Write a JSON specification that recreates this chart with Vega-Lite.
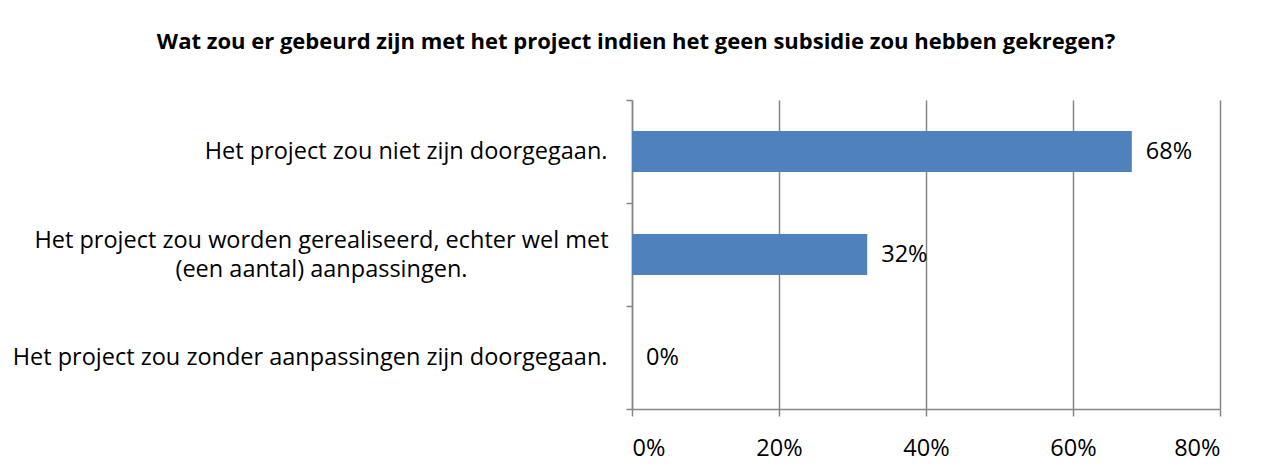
{
  "$schema": "https://vega.github.io/schema/vega-lite/v6.json",
  "width": 588,
  "height": 309,
  "autosize": "none",
  "padding": {"left": 632, "top": 100, "right": 50, "bottom": 63},
  "background": "#ffffff",
  "title": {
    "text": "Wat zou er gebeurd zijn met het project indien het geen subsidie zou hebben gekregen?",
    "anchor": "middle",
    "frame": "group",
    "dx": -290,
    "offset": 34,
    "font": "Open Sans",
    "fontSize": 22,
    "fontWeight": "bold",
    "color": "#000000"
  },
  "data": {
    "values": [
      {"antwoord": "Het project zou niet zijn doorgegaan.", "aandeel": 0.68},
      {"antwoord": "Het project zou worden gerealiseerd, echter wel met (een aantal) aanpassingen.", "aandeel": 0.32},
      {"antwoord": "Het project zou zonder aanpassingen zijn doorgegaan.", "aandeel": 0.0}
    ]
  },
  "encoding": {
    "y": {
      "field": "antwoord",
      "type": "nominal",
      "sort": null,
      "scale": {"paddingInner": 0, "paddingOuter": 0},
      "axis": {
        "title": null,
        "tickBand": "extent",
        "tickSize": 6,
        "labelLimit": 800,
        "labelLineHeight": 29,
        "labelExpr": "isString(datum.label) && indexof(datum.label, 'echter wel met') > 0 ? ['Het project zou worden gerealiseerd, echter wel met', '(een aantal) aanpassingen.'] : datum.label",
        "labelAlign": {"condition": {"test": "isString(datum.value) && indexof(datum.value, 'echter wel met') > 0", "value": "center"}, "value": "right"},
        "labelPadding": {"condition": {"test": "isString(datum.value) && indexof(datum.value, 'echter wel met') > 0", "value": 305}, "value": 19},
        "labelOffset": {"condition": {"test": "isString(datum.value) && indexof(datum.value, 'echter wel met') > 0", "value": -14}, "value": 0}
      }
    },
    "x": {
      "field": "aandeel",
      "type": "quantitative",
      "scale": {"domain": [0, 0.8], "nice": false},
      "axis": {
        "title": null,
        "values": [0, 0.2, 0.4, 0.6, 0.8],
        "format": ".0%",
        "grid": true,
        "tickSize": 7,
        "labelPadding": 20
      }
    }
  },
  "layer": [
    {"mark": {"type": "bar", "color": "#4F81BD", "height": {"band": 0.4}}},
    {
      "mark": {"type": "text", "align": "left", "baseline": "middle", "dx": 14, "font": "Open Sans", "fontSize": 23.5, "color": "#000000"},
      "encoding": {"text": {"field": "aandeel", "type": "quantitative", "format": ".0%"}}
    }
  ],
  "config": {
    "view": {"stroke": null},
    "axis": {
      "domainColor": "#868686",
      "domainWidth": 1.5,
      "tickColor": "#868686",
      "tickWidth": 1.5,
      "gridColor": "#868686",
      "gridWidth": 1.5,
      "labelFont": "Open Sans",
      "labelFontSize": 23.5,
      "labelColor": "#000000"
    }
  }
}
